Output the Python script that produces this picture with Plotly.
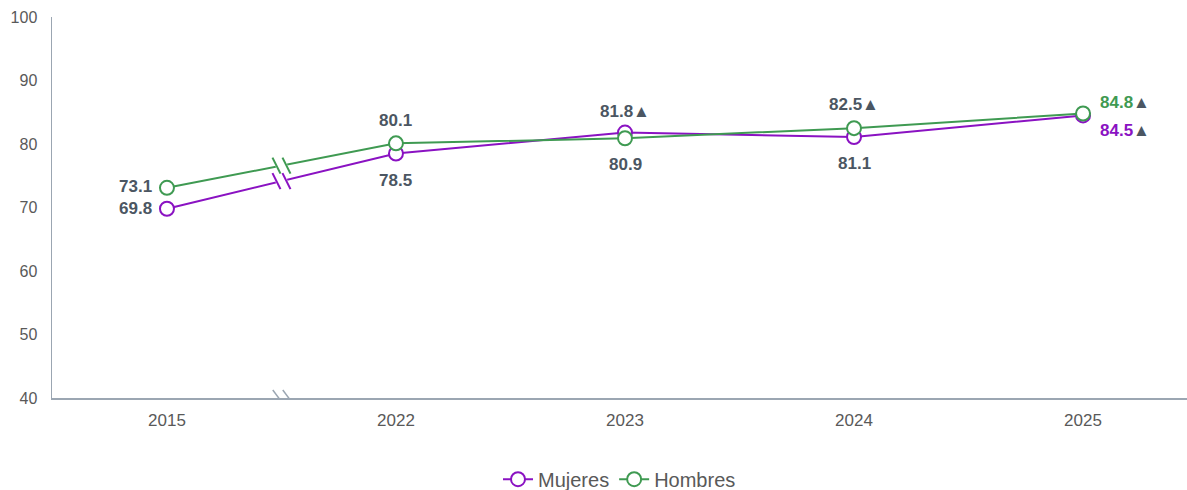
import plotly.graph_objects as go

years = ["2015", "2022", "2023", "2024", "2025"]
mujeres = [69.8, 78.5, 81.8, 81.1, 84.5]
hombres = [73.1, 80.1, 80.9, 82.5, 84.8]
mujeres_up = [False, False, True, False, True]
hombres_up = [False, False, False, True, True]
y_ticks = [40, 50, 60, 70, 80, 90, 100]

C_M = "#8a12c2"
C_H = "#3f9a52"
C_TXT = "#4b5662"
C_AX = "#9ba6b2"
FONT = "Liberation Sans, Arial, sans-serif"

xs = list(range(len(years)))

fig = go.Figure()
for name, vals, col in [("Mujeres", mujeres, C_M), ("Hombres", hombres, C_H)]:
    fig.add_trace(go.Scatter(
        x=xs, y=vals, name=name, mode="lines+markers",
        line=dict(color=col, width=2),
        marker=dict(symbol="circle", size=14, color="white", line=dict(color=col, width=2)),
        hoverinfo="skip",
    ))

# label placement: (xanchor, xshift, yshift, colored)
pos_m = [("right", -13, 0, False), ("center", 0, -27, False), ("center", 0, 21, False),
         ("center", 0, -26, False), ("left", 15, -15, True)]
pos_h = [("right", -13, 1, False), ("center", 0, 23, False), ("center", 0, -26, False),
         ("center", 0, 24, False), ("left", 15, 11, True)]

for vals, ups, poss, col in [(mujeres, mujeres_up, pos_m, C_M), (hombres, hombres_up, pos_h, C_H)]:
    for i, (v, up, p) in enumerate(zip(vals, ups, poss)):
        xa, xsh, ysh, colored = p
        txt = f"{v:.1f}"
        if up:
            txt += f"<span style='color:{C_TXT}'>▲</span>"
        fig.add_annotation(x=xs[i], y=v, text=f"<b>{txt}</b>", showarrow=False,
                           xanchor=xa, yanchor="middle", xshift=xsh, yshift=ysh,
                           font=dict(family=FONT, size=17, color=col if colored else C_TXT))

# break marks between 2015 and 2022
shapes = []
xb = 0.5
d = 0.025
for vals, col in [(mujeres, C_M), (hombres, C_H)]:
    y0, y1 = vals[0], vals[1]
    ya = y0 + (y1 - y0) * (xb - d)
    yc = y0 + (y1 - y0) * (xb + d)
    yb = (y0 + y1) / 2
    shapes.append(dict(type="line", xref="x", yref="y", x0=xb - d, x1=xb + d, y0=ya, y1=yc,
                       line=dict(color="white", width=4), layer="above"))
    for dx in (-5, 5):
        shapes.append(dict(type="line", xref="x", yref="y", xsizemode="pixel", ysizemode="pixel",
                           xanchor=xb, yanchor=yb, x0=dx - 4, x1=dx + 4, y0=8, y1=-8,
                           line=dict(color=col, width=2), layer="above"))
# axis break
shapes.append(dict(type="line", xref="x", yref="y", xsizemode="pixel", ysizemode="pixel",
                   xanchor=xb + 0.01, yanchor=40, x0=-6, x1=6, y0=0, y1=0,
                   line=dict(color="white", width=4), layer="above"))
for dx in (-5, 5):
    shapes.append(dict(type="line", xref="x", yref="y", xsizemode="pixel", ysizemode="pixel",
                       xanchor=xb + 0.01, yanchor=40, x0=dx - 6, x1=dx + 6, y0=8, y1=-8,
                       line=dict(color=C_AX, width=1.5), layer="above"))

fig.update_layout(
    width=1187, height=490,
    margin=dict(l=52, r=0, t=17, b=92, autoexpand=False),
    paper_bgcolor="white", plot_bgcolor="white",
    font=dict(family=FONT, color="#595959"),
    shapes=shapes,
    showlegend=True,
    legend=dict(orientation="h", x=0.50, xanchor="center", y=-0.213, yanchor="middle",
                font=dict(family=FONT, size=20, color="#595959"), itemwidth=30),
    xaxis=dict(range=[-0.502, 4.454], tickvals=xs, ticktext=years, showgrid=False,
               zeroline=False, showline=True, linecolor=C_AX, linewidth=1.5,
               ticks="", tickfont=dict(size=17, color="#595959"), ticklabelstandoff=6,
               fixedrange=True),
    yaxis=dict(range=[40, 100], tickvals=y_ticks, showgrid=False, zeroline=False,
               showline=True, linecolor=C_AX, linewidth=1.5, ticks="",
               tickfont=dict(size=16, color="#595959"), ticklabelstandoff=10,
               fixedrange=True),
)

fig.write_html("out.html", config={"displayModeBar": False, "staticPlot": True},
               post_script="document.body.style.margin='0';document.body.style.overflow='hidden';")
